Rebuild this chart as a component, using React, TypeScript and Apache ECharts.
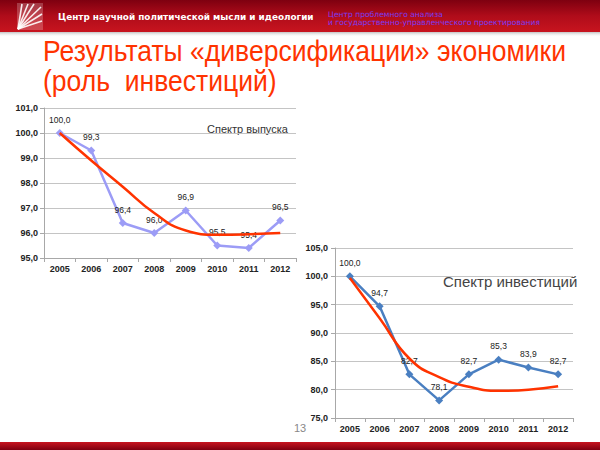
import React, { useEffect, useRef } from "react";
import * as echarts from "echarts";

const years = ["2005", "2006", "2007", "2008", "2009", "2010", "2011", "2012"];
const outputValues = [100.0, 99.3, 96.4, 96.0, 96.9, 95.5, 95.4, 96.5];
const outputTrend = [100.0, 98.9, 97.85, 96.8, 96.1, 95.93, 95.95, 96.0];
const investValues = [100.0, 94.7, 82.7, 78.1, 82.7, 85.3, 83.9, 82.7];
const investTrend = [99.7, 92.6, 85.5, 82.2, 80.5, 79.8, 80.0, 80.6];
const outputAxis = { min: 95, max: 101, interval: 1 };
const investAxis = { min: 75, max: 105, interval: 5 };

const titleLine1 = "Результаты «диверсификации» экономики";
const titleLine2 = "(роль  инвестиций)";
const headerText = "Центр научной политической мысли и идеологии";
const headerSub1 = "Центр проблемного анализа";
const headerSub2 = "и государственно-управленческого проектирования";
const outputLabel = "Спектр выпуска";
const investLabel = "Спектр инвестиций";
const pageNumber = "13";

const fmt = (v: number) => v.toFixed(1).replace(".", ",");
const FONT = "Liberation Sans, Arial, sans-serif";
const TREND = "#ff3300";

function axisPair(gridIndex: number, ax: { min: number; max: number; interval: number }, margin: number) {
  return {
    x: {
      type: "category",
      gridIndex,
      data: years,
      boundaryGap: true,
      axisLine: { lineStyle: { color: "#a8a8a8", width: 1 } },
      axisTick: { show: true, length: 4, lineStyle: { color: "#a8a8a8" } },
      axisLabel: { color: "#222", fontSize: 9, fontWeight: "bold", fontFamily: FONT, margin: 6 },
    },
    y: {
      type: "value",
      gridIndex,
      min: ax.min,
      max: ax.max,
      interval: ax.interval,
      axisLine: { show: true, lineStyle: { color: "#a8a8a8", width: 1 } },
      axisTick: { show: true, length: 4, lineStyle: { color: "#a8a8a8" } },
      splitLine: { show: true, lineStyle: { color: "#c4c4c4", width: 1 } },
      axisLabel: {
        color: "#222",
        fontSize: 9,
        fontWeight: "bold",
        fontFamily: FONT,
        margin,
        formatter: (v: number) => fmt(v),
      },
    },
  };
}

function txt(x: number, y: number, text: string, font: string, fill: string, extra: any = {}) {
  return {
    type: "text",
    x,
    y,
    silent: true,
    ...extra,
    style: {
      text,
      font,
      fill,
      verticalAlign: "middle",
      textVerticalAlign: "middle",
      ...(extra.style || {}),
    },
  };
}

export default function App() {
  const ref = useRef<HTMLDivElement>(null);
  useEffect(() => {
    if (!ref.current) return;
    const chart = echarts.init(ref.current, undefined, { renderer: "svg" });
    const a1 = axisPair(0, outputAxis, 6);
    const a2 = axisPair(1, investAxis, 7);
    const dataLabel = {
      show: true,
      position: "top",
      distance: 5,
      color: "#222",
      fontSize: 8.5,
      fontFamily: FONT,
      formatter: (p: any) => fmt(p.value),
    };
    chart.setOption({
      animation: false,
      backgroundColor: "#ffffff",
      grid: [
        { left: 44, top: 108, width: 252, height: 150 },
        { left: 335, top: 248, width: 238, height: 170 },
      ],
      xAxis: [a1.x, a2.x],
      yAxis: [a1.y, a2.y],
      series: [
        {
          type: "line",
          xAxisIndex: 0,
          yAxisIndex: 0,
          data: outputValues,
          symbol: "diamond",
          symbolSize: 8,
          lineStyle: { color: "#9c9cf6", width: 2.5 },
          itemStyle: { color: "#9c9cf6" },
          label: dataLabel,
          z: 2,
        },
        {
          type: "line",
          xAxisIndex: 0,
          yAxisIndex: 0,
          data: outputTrend,
          smooth: 0.5,
          showSymbol: false,
          symbol: "none",
          lineStyle: { color: TREND, width: 2.5 },
          z: 3,
        },
        {
          type: "line",
          xAxisIndex: 1,
          yAxisIndex: 1,
          data: investValues,
          symbol: "diamond",
          symbolSize: 8,
          lineStyle: { color: "#4a7fc1", width: 2.5 },
          itemStyle: { color: "#4a7fc1" },
          label: dataLabel,
          z: 2,
        },
        {
          type: "line",
          xAxisIndex: 1,
          yAxisIndex: 1,
          data: investTrend,
          smooth: 0.5,
          showSymbol: false,
          symbol: "none",
          lineStyle: { color: TREND, width: 2.5 },
          z: 3,
        },
      ],
      graphic: [
        {
          type: "rect",
          shape: { x: 0, y: 0, width: 600, height: 32 },
          style: {
            fill: {
              type: "linear", x: 0, y: 0, x2: 0, y2: 1,
              colorStops: [
                { offset: 0, color: "#7e0010" },
                { offset: 0.5, color: "#b00c1a" },
                { offset: 1, color: "#c8141f" },
              ],
            },
          },
          silent: true,
        },
        {
          type: "rect",
          shape: { x: 0, y: 32, width: 600, height: 5 },
          style: {
            fill: {
              type: "linear", x: 0, y: 0, x2: 0, y2: 1,
              colorStops: [
                { offset: 0, color: "rgba(120,120,120,0.45)" },
                { offset: 1, color: "rgba(255,255,255,0)" },
              ],
            },
          },
          silent: true,
        },
        {
          type: "rect",
          shape: { x: 17, y: 3, width: 26, height: 27 },
          style: { fill: "rgba(255,255,255,0.22)" },
          silent: true,
        },
        ...[
          [22, 4], [28, 4], [34, 4], [41, 7], [42, 14], [42, 21],
        ].map(([x2, y2]) => ({
          type: "line",
          shape: { x1: 18, y1: 29, x2, y2 },
          style: { stroke: "rgba(255,255,255,0.9)", lineWidth: 1.6 },
          silent: true,
        })),
        txt(58, 17, headerText, "bold 8.85px DejaVu Sans, sans-serif", "#ffffff"),
        txt(328, 14, headerSub1, "7.6px DejaVu Sans, sans-serif", "#7a3cf0"),
        txt(328, 22, headerSub2, "7.6px DejaVu Sans, sans-serif", "#7a3cf0"),
        {
          type: "text",
          x: 43,
          y: 37,
          scaleX: 0.915,
          silent: true,
          style: { text: titleLine1, font: "29px " + FONT, fill: TREND, verticalAlign: "top", textVerticalAlign: "top" },
        },
        {
          type: "text",
          x: 43,
          y: 67,
          scaleX: 0.915,
          silent: true,
          style: { text: titleLine2, font: "29px " + FONT, fill: TREND, verticalAlign: "top", textVerticalAlign: "top" },
        },
        txt(207, 129, outputLabel, "11px " + FONT, "#333"),
        txt(443, 281, investLabel, "15px " + FONT, "#444"),
        txt(300, 428, pageNumber, "11px " + FONT, "#888", {
          style: { align: "center", textAlign: "center" },
        }),
        {
          type: "rect",
          shape: { x: 0, y: 442, width: 600, height: 8 },
          style: {
            fill: {
              type: "linear", x: 0, y: 0, x2: 0, y2: 1,
              colorStops: [
                { offset: 0, color: "#c8141f" },
                { offset: 1, color: "#7e0010" },
              ],
            },
          },
          silent: true,
        },
      ],
    });
    return () => chart.dispose();
  }, []);
  return (
    <div
      ref={ref}
      style={{ position: "absolute", left: 0, top: 0, width: 600, height: 450 }}
    />
  );
}
